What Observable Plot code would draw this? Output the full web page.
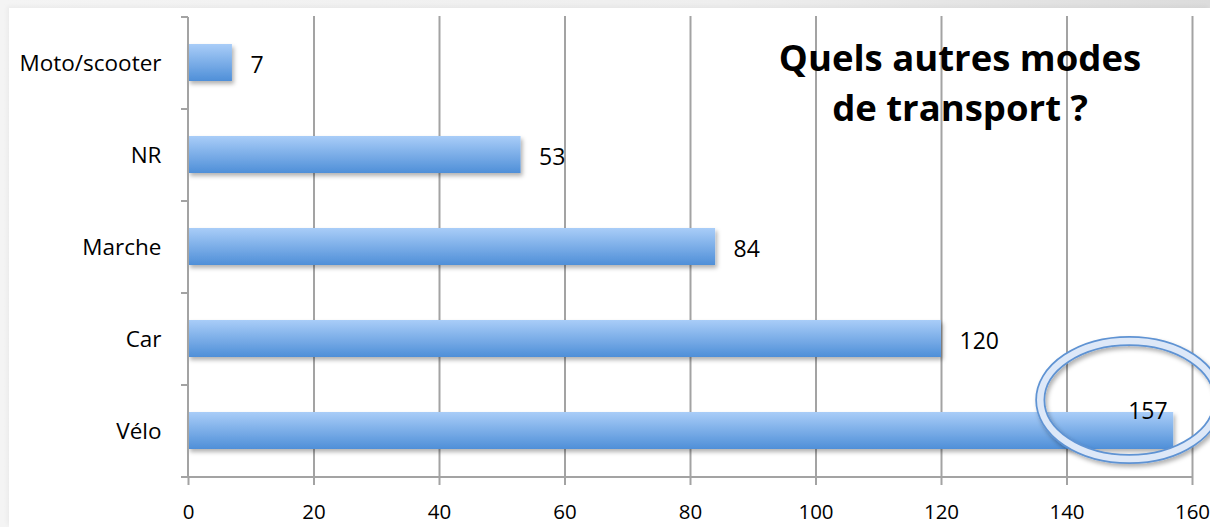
<!DOCTYPE html>
<html>
<head>
<meta charset="utf-8">
<script src="https://cdn.jsdelivr.net/npm/d3@7"></script>
<script src="https://cdn.jsdelivr.net/npm/@observablehq/plot@0.6"></script>
<style>
  html, body { margin: 0; padding: 0; }
  body {
    width: 1210px; height: 527px; overflow: hidden; position: relative;
    background: linear-gradient(to right, #f4f4f4 0%, #eeeeee 60%, #dcdcdc 100%);
    font-family: "Open Sans", sans-serif;
  }
  #sheet { position: absolute; left: 9px; top: 8px; right: 0; bottom: 0; background: #fff;
    box-shadow: -2px -2px 4px rgba(0,0,0,0.04); }
  #chart { position: absolute; left: 0; top: 0; }
  #title { position: absolute; left: 760px; width: 400px; top: 33px; text-align: center;
    font-family: "Open Sans", sans-serif; font-weight: bold; font-size: 36.5px; line-height: 49.5px; color: #000; white-space: nowrap; }
</style>
</head>
<body>
<div id="sheet"></div>
<div id="chart"></div>
<div id="title"></div>
<script>
const categories = ["Moto/scooter", "NR", "Marche", "Car", "Vélo"];
const values = [7, 53, 84, 120, 157];
const xTicks = [0, 20, 40, 60, 80, 100, 120, 140, 160];
const titleLines = ["Quels autres modes", "de transport ?"];
const highlightCategory = ["Vélo"];
const highlightValue = [150];

const data = categories.map((c, i) => ({mode: c, n: values[i]}));
const gridColor = "#a3a3a3";

const chart = Plot.plot({
  width: 1210,
  height: 527,
  marginLeft: 188,
  marginRight: 18,
  marginTop: 16,
  marginBottom: 49,
  style: {background: "transparent", fontFamily: "'Open Sans', sans-serif", color: "#000"},
  x: {domain: [0, 160]},
  y: {domain: categories, padding: 0},
  marks: [
    Plot.gridX(xTicks.slice(1), {stroke: gridColor, strokeOpacity: 1, strokeWidth: 2}),
    Plot.barX(data, {x: "n", y: "mode", fill: "url(#barGrad)", insetTop: 27, insetBottom: 28}),
    Plot.text(data.filter(d => d.n < 150), {x: "n", y: "mode", text: d => String(d.n), textAnchor: "start", dx: 18, dy: 2, fontSize: 23, fill: "#000"}),
    Plot.text(data.filter(d => d.n >= 150), {x: "n", y: "mode", text: d => String(d.n), textAnchor: "end", dx: -6, dy: -20, fontSize: 23, fill: "#000"}),
    Plot.axisX({ticks: xTicks, tickSize: 7, tickPadding: 19, fontSize: 20.5, stroke: gridColor, strokeWidth: 2, tickFormat: d => String(d), label: null}),
    Plot.axisY({tickSize: 0, tickPadding: 27, fontSize: 22.5, label: null})
  ]
});
document.getElementById("chart").appendChild(chart);
document.getElementById("title").innerHTML = titleLines.map(t => `<div>${t}</div>`).join("");

// decorations positioned through the plot's scales
const NS = "http://www.w3.org/2000/svg";
const el = (name, attrs, parent) => {
  const e = document.createElementNS(NS, name);
  for (const k in attrs) e.setAttribute(k, attrs[k]);
  (parent || chart).appendChild(e);
  return e;
};
const defs = el("defs", {});
chart.insertBefore(defs, chart.firstChild);
const grad = el("linearGradient", {id: "barGrad", x1: 0, y1: 0, x2: 0, y2: 1}, defs);
el("stop", {offset: "0%", "stop-color": "#a9cdf8"}, grad);
el("stop", {offset: "100%", "stop-color": "#4f8fd8"}, grad);
const sh = el("filter", {id: "shadow", x: "-10%", y: "-30%", width: "130%", height: "180%"}, defs);
el("feDropShadow", {dx: 2, dy: 3, stdDeviation: 2, "flood-color": "#000", "flood-opacity": 0.3}, sh);

chart.querySelectorAll("rect").forEach(r => {
  if (r.getAttribute("fill") === "url(#barGrad)" || (r.parentNode && r.parentNode.getAttribute("fill") === "url(#barGrad)")) r.setAttribute("filter", "url(#shadow)");
});

const xs = chart.scale("x"), ys = chart.scale("y");
const x0 = xs.apply(0), x1 = xs.apply(160);
const yTop = ys.apply(categories[0]);
const yBot = ys.apply(categories[categories.length - 1]) + ys.bandwidth;
const axisG = el("g", {stroke: gridColor, "stroke-width": 2, fill: "none"});
el("line", {x1: x0, x2: x0, y1: yTop, y2: yBot}, axisG);
el("line", {x1: x0 - 7, x2: x1, y1: yBot, y2: yBot}, axisG);
categories.forEach(c => {
  const y = ys.apply(c);
  el("line", {x1: x0 - 7, x2: x0, y1: y, y2: y}, axisG);
});

// highlight ellipse
const cx = xs.apply(highlightValue[0]);
const cy = ys.apply(highlightCategory[0]) + ys.bandwidth / 2 - 31;
const eg = el("g", {fill: "none", filter: "url(#shadow)"});
el("ellipse", {cx, cy, rx: 89, ry: 59, stroke: "#5f93d3", "stroke-width": 10}, eg);
el("ellipse", {cx, cy, rx: 89, ry: 59, stroke: "#dde8f8", "stroke-width": 6.5}, eg);
</script>
</body>
</html>
